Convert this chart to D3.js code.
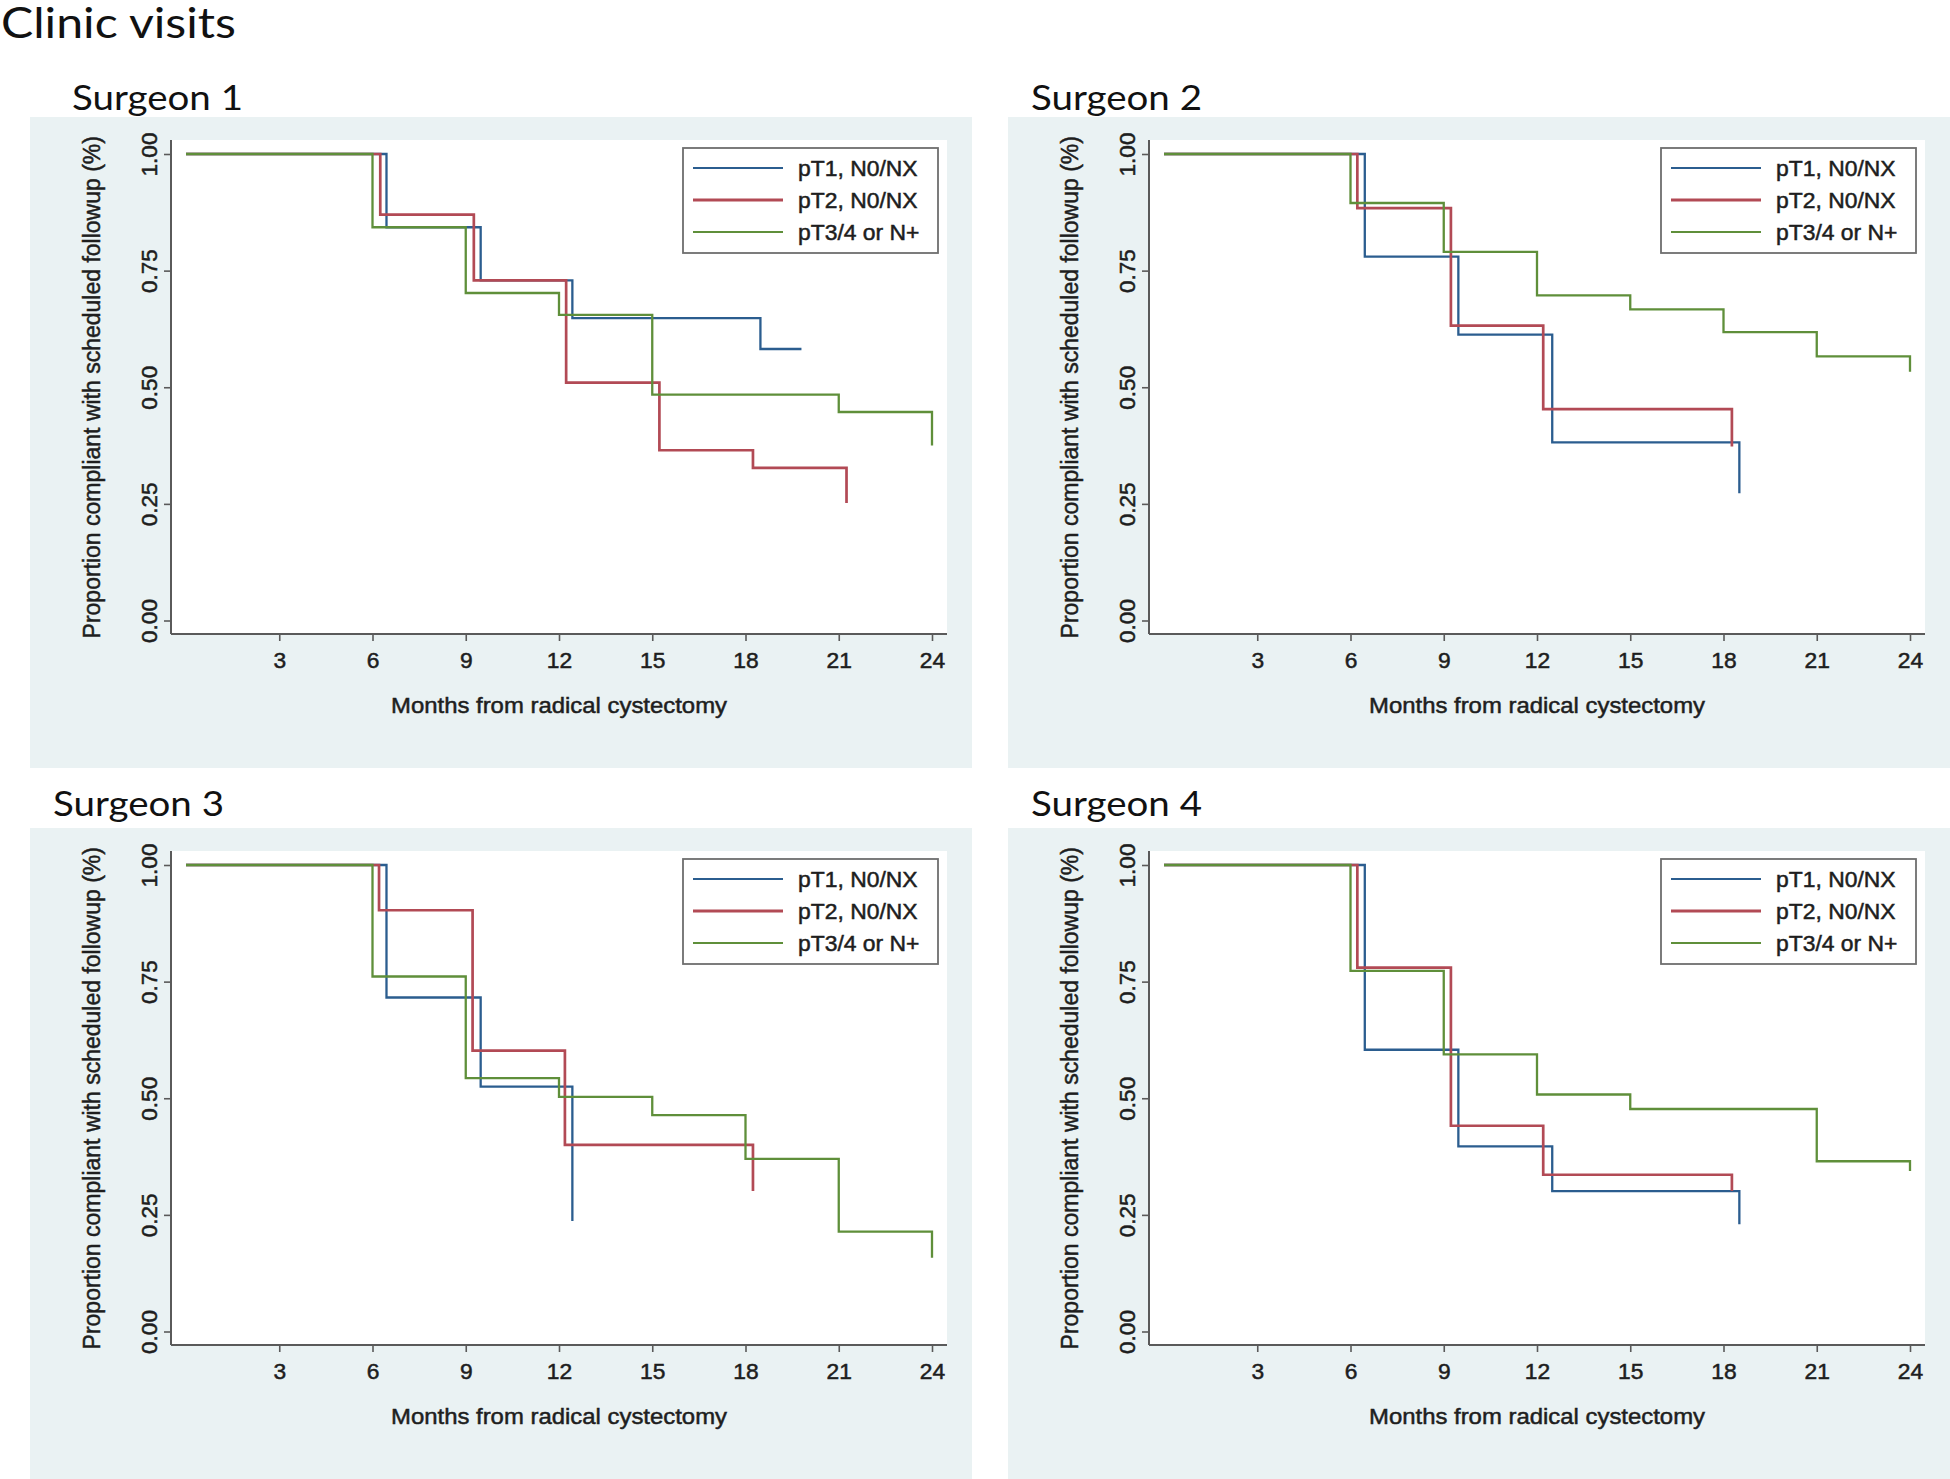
<!DOCTYPE html>
<html>
<head>
<meta charset="utf-8">
<script src="https://cdn.jsdelivr.net/npm/d3@7"></script>
<style>
  html, body { margin: 0; padding: 0; background: #ffffff; }
  svg { display: block; }
</style>
</head>
<body>
<svg id="chart" width="1950" height="1479"></svg>
<script>
// ---------------- DATA ----------------
const pageTitle = "Clinic visits";
const surgeons = ["Surgeon 1", "Surgeon 2", "Surgeon 3", "Surgeon 4"];
const groups = ["pT1, N0/NX", "pT2, N0/NX", "pT3/4 or N+"];
const xTicks = [3, 6, 9, 12, 15, 18, 21, 24];
const yTicks = [0, 0.25, 0.5, 0.75, 1];
const yTickLabels = ["0.00", "0.25", "0.50", "0.75", "1.00"];
const xTitle = "Months from radical cystectomy";
const yTitle = "Proportion compliant with scheduled followup (%)";

// Surgeon 1
const s1_pT1_t  = [0, 6.45, 9.48, 12.43, 18.48, 19.8];
const s1_pT1_s  = [1, 0.843, 0.729, 0.648, 0.582, 0.582];
const s1_pT2_t  = [0, 6.25, 9.26, 12.23, 15.23, 18.24, 21.25];
const s1_pT2_s  = [1, 0.870, 0.729, 0.510, 0.365, 0.327, 0.252];
const s1_pT34_t = [0, 6.0, 9.0, 12.0, 15.0, 21.0, 24.0];
const s1_pT34_s = [1, 0.843, 0.702, 0.655, 0.484, 0.447, 0.375];

// Surgeon 2
const s2_pT1_t  = [0, 6.46, 9.47, 12.49, 18.51];
const s2_pT1_s  = [1, 0.780, 0.613, 0.382, 0.273];
const s2_pT2_t  = [0, 6.22, 9.23, 12.2, 18.27];
const s2_pT2_s  = [1, 0.884, 0.632, 0.453, 0.373];
const s2_pT34_t = [0, 6.0, 9.0, 12.0, 15.0, 18.0, 21.0, 24.0];
const s2_pT34_s = [1, 0.895, 0.790, 0.697, 0.667, 0.618, 0.566, 0.533];

// Surgeon 3
const s3_pT1_t  = [0, 6.45, 9.48, 12.43];
const s3_pT1_s  = [1, 0.716, 0.525, 0.237];
const s3_pT2_t  = [0, 6.21, 9.22, 12.19, 18.24];
const s3_pT2_s  = [1, 0.903, 0.602, 0.400, 0.301];
const s3_pT34_t = [0, 6.0, 9.0, 12.0, 15.0, 18.0, 21.0, 24.0];
const s3_pT34_s = [1, 0.761, 0.543, 0.503, 0.464, 0.370, 0.214, 0.158];

// Surgeon 4
const s4_pT1_t  = [0, 6.46, 9.47, 12.49, 18.51];
const s4_pT1_s  = [1, 0.604, 0.397, 0.301, 0.230];
const s4_pT2_t  = [0, 6.22, 9.23, 12.2, 18.27];
const s4_pT2_s  = [1, 0.780, 0.441, 0.336, 0.301];
const s4_pT34_t = [0, 6.0, 9.0, 12.0, 15.0, 21.0, 24.0];
const s4_pT34_s = [1, 0.773, 0.594, 0.508, 0.477, 0.365, 0.344];

const panelSeries = [
  [[s1_pT1_t, s1_pT1_s], [s1_pT2_t, s1_pT2_s], [s1_pT34_t, s1_pT34_s]],
  [[s2_pT1_t, s2_pT1_s], [s2_pT2_t, s2_pT2_s], [s2_pT34_t, s2_pT34_s]],
  [[s3_pT1_t, s3_pT1_s], [s3_pT2_t, s3_pT2_s], [s3_pT34_t, s3_pT34_s]],
  [[s4_pT1_t, s4_pT1_s], [s4_pT2_t, s4_pT2_s], [s4_pT34_t, s4_pT34_s]]
];

// ---------------- STYLE / LAYOUT ----------------
const colors = ["#2b5d8f", "#b24a55", "#5f8f3a"];
const widths = [2.3, 2.7, 2.3];
const bgColor = "#eaf2f3";
const axisColor = "#5a5a5a";
const textColor = "#1e1e1e";
const sansFont = "'Liberation Sans', Arial, sans-serif";
const titleFont = "Lato, 'Open Sans', sans-serif";

const panelOrigins = [[30, 117], [1008, 117], [30, 828], [1008, 828]];
const titlePos = [[72, 110], [1031, 110], [53, 816], [1031, 816]];
const panelW = 942, panelH = 651;

// inside panel (local coordinates)
const plotL = 141, plotR = 917, plotT = 23, plotB = 517;

const svg = d3.select("#chart");

function stretch(sel, k) {
  sel.each(function () {
    const w = this.getComputedTextLength();
    this.setAttribute("textLength", w * k);
    this.setAttribute("lengthAdjust", "spacingAndGlyphs");
  });
}
function fitWidth(sel, target) {
  sel.each(function () {
    this.setAttribute("textLength", target);
    this.setAttribute("lengthAdjust", "spacingAndGlyphs");
  });
}
function bolden(sel, w) {
  sel.attr("stroke", textColor).attr("stroke-width", w).attr("paint-order", "stroke");
}

// page title
svg.append("text")
  .attr("x", 1).attr("y", 38)
  .attr("font-family", titleFont)
  .attr("font-size", 42)
  .attr("fill", "#111")
  .text(pageTitle)
  .call(fitWidth, 235);

const x = d3.scaleLinear().domain([0, 24]).range([156, 902]);
const y = d3.scaleLinear().domain([0, 1]).range([503.5, 37]);
const line = d3.line()
  .x(d => x(d[0]))
  .y(d => y(d[1]))
  .curve(d3.curveStepAfter);

surgeons.forEach((name, pi) => {
  const [ox, oy] = panelOrigins[pi];

  // surgeon title
  svg.append("text")
    .attr("x", titlePos[pi][0]).attr("y", titlePos[pi][1])
    .attr("font-family", titleFont)
    .attr("font-size", 35)
    .attr("fill", "#111")
    .text(name)
    .call(fitWidth, 171);

  const g = svg.append("g").attr("transform", `translate(${ox},${oy})`);

  g.append("rect")
    .attr("x", 0).attr("y", 0)
    .attr("width", panelW).attr("height", panelH)
    .attr("fill", bgColor);

  g.append("rect")
    .attr("x", plotL).attr("y", plotT)
    .attr("width", plotR - plotL).attr("height", plotB - plotT)
    .attr("fill", "#ffffff");

  // curves
  panelSeries[pi].forEach((ser, si) => {
    const pts = ser[0].map((t, i) => [t, ser[1][i]]);
    g.append("path")
      .datum(pts)
      .attr("d", line)
      .attr("fill", "none")
      .attr("stroke", colors[si])
      .attr("stroke-width", widths[si])
      .attr("stroke-linejoin", "miter");
  });

  // X axis
  const xAxis = d3.axisBottom(x).tickValues(xTicks).tickSize(7).tickPadding(0).tickFormat(d3.format("d"));
  const xg = g.append("g").attr("transform", `translate(0,${plotB})`).call(xAxis);
  xg.select(".domain").remove();
  xg.selectAll(".tick line").attr("stroke", axisColor).attr("stroke-width", 1.6);
  xg.selectAll(".tick text")
    .attr("y", 34).attr("dy", 0)
    .attr("font-family", sansFont).attr("font-size", 21.5)
    .attr("fill", textColor)
    .call(bolden, 0.5)
    .call(stretch, 1.06);
  g.append("line")
    .attr("x1", plotL).attr("x2", plotR)
    .attr("y1", plotB).attr("y2", plotB)
    .attr("stroke", axisColor).attr("stroke-width", 2);

  // Y axis
  const yAxis = d3.axisLeft(y).tickValues(yTicks).tickSize(7).tickFormat((d, i) => yTickLabels[i]);
  const yg = g.append("g").attr("transform", `translate(${plotL},0)`).call(yAxis);
  yg.select(".domain").remove();
  yg.selectAll(".tick line").attr("stroke", axisColor).attr("stroke-width", 1.6);
  yg.selectAll(".tick text")
    .attr("x", 0).attr("dy", 0)
    .attr("text-anchor", "middle")
    .attr("transform", "translate(-22,0) rotate(-90)")
    .attr("dominant-baseline", "central")
    .attr("font-family", sansFont).attr("font-size", 22.5)
    .attr("fill", textColor)
    .call(bolden, 0.5);
  g.append("line")
    .attr("x1", plotL).attr("x2", plotL)
    .attr("y1", plotT).attr("y2", plotB)
    .attr("stroke", axisColor).attr("stroke-width", 2);

  // axis titles
  g.append("text")
    .attr("x", (plotL + plotR) / 2).attr("y", 596)
    .attr("text-anchor", "middle")
    .attr("font-family", sansFont).attr("font-size", 22)
    .attr("fill", textColor)
    .text(xTitle)
    .call(bolden, 0.5)
    .call(fitWidth, 336);

  g.append("text")
    .attr("transform", `translate(62,${(y(0) + y(1)) / 2}) rotate(-90)`)
    .attr("text-anchor", "middle")
    .attr("dominant-baseline", "central")
    .attr("font-family", sansFont).attr("font-size", 23)
    .attr("fill", textColor)
    .text(yTitle)
    .call(bolden, 0.5);

  // legend
  const lg = g.append("g");
  lg.append("rect")
    .attr("x", 653).attr("y", 31)
    .attr("width", 255).attr("height", 105)
    .attr("fill", "#ffffff")
    .attr("stroke", "#6e6e6e").attr("stroke-width", 1.8);
  groups.forEach((lab, si) => {
    const ry = 51 + si * 32;
    lg.append("line")
      .attr("x1", 663).attr("x2", 753)
      .attr("y1", ry).attr("y2", ry)
      .attr("stroke", colors[si]).attr("stroke-width", si === 1 ? 3.2 : 2.2);
    lg.append("text")
      .attr("x", 768).attr("y", ry)
      .attr("dominant-baseline", "central")
      .attr("font-family", sansFont).attr("font-size", 22)
      .attr("fill", textColor)
      .text(lab)
      .call(bolden, 0.5)
      .call(stretch, 1.04);
  });
});
</script>
</body>
</html>
